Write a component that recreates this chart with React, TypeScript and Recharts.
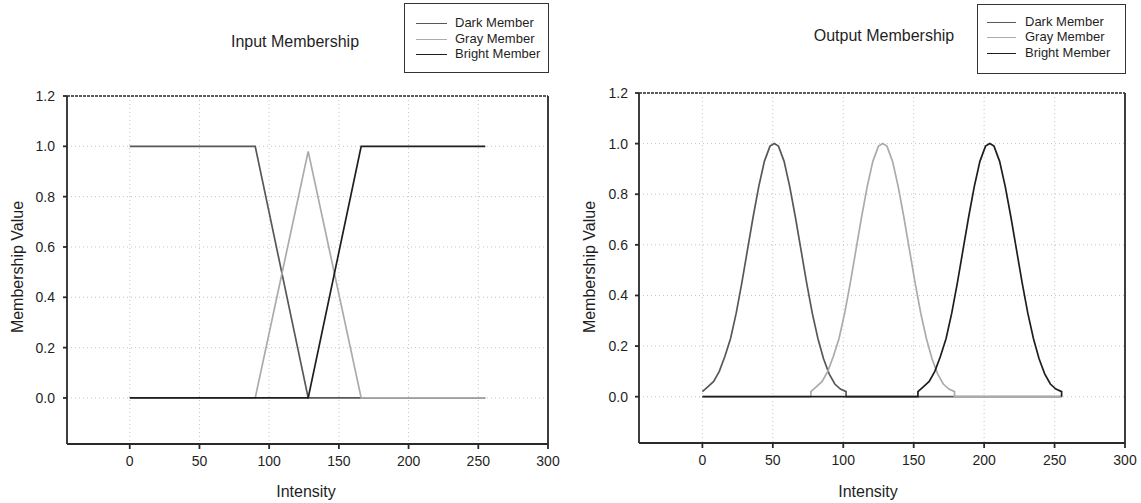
import React from 'react';
import { LineChart, Line, XAxis, YAxis, CartesianGrid, ReferenceLine } from 'recharts';

// ---- Data ----
const SERIES_NAMES = ['Dark Member', 'Gray Member', 'Bright Member'];
const SERIES_COLORS = ['#585858', '#ababab', '#1e1e1e'];

const X_TICKS = [0, 50, 100, 150, 200, 250, 300];
const Y_TICKS = [0, 0.2, 0.4, 0.6, 0.8, 1.0, 1.2];

// Input membership (piecewise linear)
const inDarkX = [0, 90, 128, 255];
const inDarkY = [1, 1, 0, 0];
const inGrayX = [0, 90, 128, 166, 255];
const inGrayY = [0, 0, 0.98, 0, 0];
const inBrightX = [0, 128, 166, 255];
const inBrightY = [0, 0, 1, 1];

// Output membership (bell shaped)
const outDarkX = [0, 4, 8, 12, 16, 20, 24, 28, 32, 36, 40, 44, 48, 51, 54, 58, 62, 66, 70, 74, 78, 82, 86, 90, 94, 98, 102, 102, 255];
const outDarkY = [0.02, 0.04, 0.06, 0.10, 0.16, 0.23, 0.33, 0.45, 0.58, 0.71, 0.83, 0.93, 0.99, 1.0, 0.99, 0.93, 0.83, 0.71, 0.58, 0.45, 0.33, 0.23, 0.15, 0.09, 0.05, 0.03, 0.02, 0, 0];
const outGrayX = [0, 77, 77, 81, 85, 89, 93, 97, 101, 105, 109, 113, 117, 121, 125, 128, 131, 135, 139, 143, 147, 151, 155, 159, 163, 167, 171, 175, 179, 179, 255];
const outGrayY = [0, 0, 0.02, 0.04, 0.06, 0.10, 0.16, 0.23, 0.33, 0.45, 0.58, 0.71, 0.83, 0.93, 0.99, 1.0, 0.99, 0.93, 0.83, 0.71, 0.58, 0.45, 0.33, 0.23, 0.15, 0.09, 0.05, 0.03, 0.02, 0, 0];
const outBrightX = [0, 153, 153, 157, 161, 165, 169, 173, 177, 181, 185, 189, 193, 197, 201, 204, 207, 211, 215, 219, 223, 227, 231, 235, 239, 243, 247, 251, 255, 255];
const outBrightY = [0, 0, 0.02, 0.04, 0.06, 0.10, 0.16, 0.23, 0.33, 0.45, 0.58, 0.71, 0.83, 0.93, 0.99, 1.0, 0.99, 0.93, 0.83, 0.71, 0.58, 0.45, 0.33, 0.23, 0.15, 0.09, 0.05, 0.03, 0.02, 0];

const toPts = (xs: number[], ys: number[]) => xs.map((x, i) => ({ x, y: ys[i] }));

const INPUT_SERIES = [toPts(inDarkX, inDarkY), toPts(inGrayX, inGrayY), toPts(inBrightX, inBrightY)];
const OUTPUT_SERIES = [toPts(outDarkX, outDarkY), toPts(outGrayX, outGrayY), toPts(outBrightX, outBrightY)];

const FONT = '"Liberation Sans", Arial, sans-serif';
const AXIS_COLOR = '#2a2a2a';

type PanelProps = {
  left: number;
  width: number;
  yAxisWidth: number;
  marginTop: number;
  marginRight: number;
  marginBottom: number;
  tickMarginY: number;
  series: { x: number; y: number }[][];
};

function Panel({ left, width, yAxisWidth, marginTop, marginRight, marginBottom, tickMarginY, series }: PanelProps) {
  return (
    <div style={{ position: 'absolute', left, top: 0 }}>
      <LineChart
        width={width}
        height={503}
        margin={{ top: marginTop, right: marginRight, bottom: marginBottom, left: 0 }}
      >
        <CartesianGrid stroke="#c4c4c4" strokeDasharray="1 3" />
        <XAxis
          type="number"
          dataKey="x"
          domain={[-45, 300]}
          allowDataOverflow
          ticks={X_TICKS}
          height={30}
          tickSize={5}
          tickMargin={7}
          stroke={AXIS_COLOR}
          strokeWidth={1.8}
          tick={{ fill: '#1f1f1f', fontSize: 14, fontFamily: FONT }}
        />
        <YAxis
          type="number"
          dataKey="y"
          domain={[-0.183, 1.2]}
          allowDataOverflow
          ticks={Y_TICKS}
          width={yAxisWidth}
          tickSize={4}
          tickMargin={tickMarginY}
          stroke={AXIS_COLOR}
          strokeWidth={1.8}
          tickFormatter={(v: number) => v.toFixed(1)}
          tick={{ fill: '#1f1f1f', fontSize: 14, fontFamily: FONT }}
        />
        <ReferenceLine y={1.2} stroke={AXIS_COLOR} strokeWidth={1.5} strokeDasharray="3 1" />
        <ReferenceLine x={300} stroke={AXIS_COLOR} strokeWidth={1.8} />
        {series.map((pts, i) => (
          <Line
            key={SERIES_NAMES[i]}
            data={pts}
            dataKey="y"
            name={SERIES_NAMES[i]}
            type="linear"
            stroke={SERIES_COLORS[i]}
            strokeWidth={1.7}
            dot={false}
            activeDot={false}
            isAnimationActive={false}
          />
        ))}
      </LineChart>
    </div>
  );
}

function LegendBox({ left, top, width, height, lineX, lineW, textX, rowYs }: { left: number; top: number; width: number; height: number; lineX: number; lineW: number; textX: number; rowYs: number[] }) {
  return (
    <div
      style={{
        position: 'absolute',
        left,
        top,
        width,
        height,
        border: '1.5px solid #333',
        boxSizing: 'border-box',
        background: '#fff',
        fontFamily: FONT,
        fontSize: 13,
        color: '#1f1f1f',
      }}
    >
      {SERIES_NAMES.map((name, i) => (
        <React.Fragment key={name}>
          <div
            style={{
              position: 'absolute',
              left: lineX,
              top: rowYs[i],
              width: lineW,
              height: 0,
              borderTop: `1.5px solid ${SERIES_COLORS[i]}`,
            }}
          />
          <div style={{ position: 'absolute', left: textX, top: rowYs[i] - 8, lineHeight: '16px', whiteSpace: 'nowrap' }}>{name}</div>
        </React.Fragment>
      ))}
    </div>
  );
}

const textStyle: React.CSSProperties = {
  position: 'absolute',
  fontFamily: FONT,
  fontSize: 16,
  color: '#1f1f1f',
  whiteSpace: 'nowrap',
  lineHeight: '20px',
};

export default function App() {
  return (
    <div style={{ position: 'absolute', left: 0, top: 0, width: 1141, height: 503, background: '#fff', overflow: 'hidden' }}>
      <Panel left={0} width={560} yAxisWidth={67} marginTop={96} marginRight={12} marginBottom={29} tickMarginY={8} series={INPUT_SERIES} />
      <Panel left={560} width={581} yAxisWidth={79} marginTop={93} marginRight={16} marginBottom={30} tickMarginY={7} series={OUTPUT_SERIES} />

      <div style={{ ...textStyle, left: 295, top: 32, transform: 'translateX(-50%)' }}>Input Membership</div>
      <div style={{ ...textStyle, left: 884, top: 26, transform: 'translateX(-50%)' }}>Output Membership</div>

      <div style={{ ...textStyle, left: 306, top: 482, transform: 'translateX(-50%)' }}>Intensity</div>
      <div style={{ ...textStyle, left: 868, top: 482, transform: 'translateX(-50%)' }}>Intensity</div>

      <div style={{ ...textStyle, left: 18, top: 267, transform: 'translate(-50%, -50%) rotate(-90deg)' }}>Membership Value</div>
      <div style={{ ...textStyle, left: 590, top: 267, transform: 'translate(-50%, -50%) rotate(-90deg)' }}>Membership Value</div>

      <LegendBox left={404} top={3} width={145} height={70} lineX={11} lineW={31} textX={50} rowYs={[19, 35, 50]} />
      <LegendBox left={977} top={4} width={149} height={70} lineX={9} lineW={29} textX={47} rowYs={[17, 32, 48]} />
    </div>
  );
}
